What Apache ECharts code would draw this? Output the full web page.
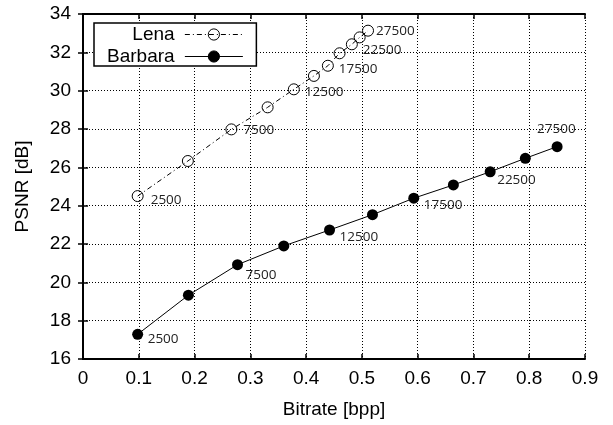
<!DOCTYPE html>
<html>
<head>
<meta charset="utf-8">
<script src="https://cdn.jsdelivr.net/npm/echarts@6/dist/echarts.min.js"></script>
<style>
    html, body { margin: 0; padding: 0; background: #fff; }
    #psnrChart { width: 613px; height: 425px; }
</style>
</head>
<body>
<div id="psnrChart"></div>

<script>
    // 数据
    var rateList = [2500, 5000, 7500, 10000, 12500, 15000, 17500, 20000, 22500, 25000, 27500];
    var lenaBitrate = [0.098, 0.188, 0.266, 0.331, 0.378, 0.414, 0.439, 0.460, 0.482, 0.496, 0.511];
    var lenaPsnr = [24.50, 26.33, 27.98, 29.13, 30.07, 30.77, 31.30, 31.95, 32.42, 32.78, 33.13];
    var barbaraBitrate = [0.098, 0.189, 0.277, 0.360, 0.442, 0.519, 0.593, 0.664, 0.730, 0.793, 0.850];
    var barbaraPsnr = [17.29, 19.33, 20.92, 21.90, 22.73, 23.53, 24.39, 25.08, 25.77, 26.47, 27.08];
    var xTickLabels = ['0', '0.1', '0.2', '0.3', '0.4', '0.5', '0.6', '0.7', '0.8', '0.9'];
    var yTickLabels = ['16', '18', '20', '22', '24', '26', '28', '30', '32', '34'];

    // 标注偏移 (样式)
    var lenaLabelOffset = [[13, 4], null, [12, 1], null, [11, 3], null, [11, 3], null, [11, 6], null, [8, 0]];
    var barbaraLabelOffset = [[10, 5], null, [8, 10], null, [10, 7], null, [10, 7], null, [7, 8], null, [-20, -17]];

    function buildData(xs, ys, offsets) {
        var list = [];
        for (var i = 0; i < xs.length; i++) {
            var item = { value: [xs[i], ys[i]], rate: rateList[i] };
            if (offsets[i]) {
                item.label = {
                    show: true,
                    position: 'inside',
                    align: 'left',
                    verticalAlign: 'middle',
                    offset: offsets[i],
                    formatter: String(rateList[i]),
                    fontFamily: 'Open Sans',
                    fontSize: 13.5,
                    color: '#222'
                };
            }
            list.push(item);
        }
        return list;
    }

    var axisFont = { fontFamily: 'Liberation Sans', fontSize: 19, color: '#000' };
    var frameLine = { show: true, lineStyle: { color: '#000', width: 2 } };
    var innerTick = { show: true, inside: true, length: 5, lineStyle: { color: '#000', width: 1.5 } };
    var dotted = { show: true, lineStyle: { color: '#000', width: 1, type: [1, 2] } };

    var option = {
        animation: false,
        grid: { left: 83, right: 28, top: 14, bottom: 66 },
        legend: {
            orient: 'vertical',
            left: 94,
            top: 23,
            align: 'right',
            itemWidth: 58,
            itemHeight: 14,
            itemGap: 3,
            padding: [2, 13, 0, 13],
            borderColor: '#000',
            borderWidth: 1.5,
            backgroundColor: '#fff',
            lineStyle: { width: 1 },
            itemStyle: { borderWidth: 1 },
            formatter: function (name) { return name + ' '; },
            textStyle: {
                fontFamily: 'Liberation Sans', fontSize: 19, color: '#000',
                width: 76, align: 'right'
            },
            data: ['Lena', 'Barbara']
        },
        xAxis: [{
            type: 'value',
            min: 0, max: 0.9, interval: 0.1,
            name: 'Bitrate [bpp]',
            nameLocation: 'middle',
            nameGap: 41,
            nameTextStyle: axisFont,
            axisLine: frameLine,
            axisTick: innerTick,
            axisLabel: {
                margin: 10,
                fontFamily: 'Liberation Sans', fontSize: 19, color: '#000',
                formatter: function (v) { return xTickLabels[Math.round(v * 10)]; }
            },
            splitLine: dotted
        }, {
            type: 'value',
            position: 'top',
            min: 0, max: 0.9, interval: 0.1,
            axisLine: frameLine,
            axisTick: innerTick,
            axisLabel: { show: false },
            splitLine: { show: false }
        }],
        yAxis: [{
            type: 'value',
            min: 16, max: 34, interval: 2,
            name: 'PSNR [dB]',
            nameLocation: 'middle',
            nameGap: 51,
            nameTextStyle: axisFont,
            axisLine: frameLine,
            axisTick: innerTick,
            axisLabel: {
                margin: 12,
                fontFamily: 'Liberation Sans', fontSize: 19, color: '#000',
                formatter: function (v) { return yTickLabels[Math.round((v - 16) / 2)]; }
            },
            splitLine: dotted
        }, {
            type: 'value',
            position: 'right',
            min: 16, max: 34, interval: 2,
            axisLine: frameLine,
            axisTick: innerTick,
            axisLabel: { show: false },
            splitLine: { show: false }
        }],
        series: [{
            name: 'Lena',
            type: 'line',
            symbol: 'circle',
            symbolSize: 11,
            itemStyle: { color: 'rgba(255,255,255,0)', borderColor: '#000', borderWidth: 1 },
            lineStyle: { color: '#000', width: 1, type: [5, 3, 1, 3] },
            data: buildData(lenaBitrate, lenaPsnr, lenaLabelOffset),
            z: 3
        }, {
            name: 'Barbara',
            type: 'line',
            symbol: 'circle',
            symbolSize: 11,
            itemStyle: { color: '#000', borderColor: '#000', borderWidth: 0 },
            lineStyle: { color: '#000', width: 1 },
            data: buildData(barbaraBitrate, barbaraPsnr, barbaraLabelOffset),
            z: 3
        }]
    };

    var myChart = echarts.init(document.getElementById('psnrChart'));
    myChart.setOption(option, true);
</script>
</body>
</html>
